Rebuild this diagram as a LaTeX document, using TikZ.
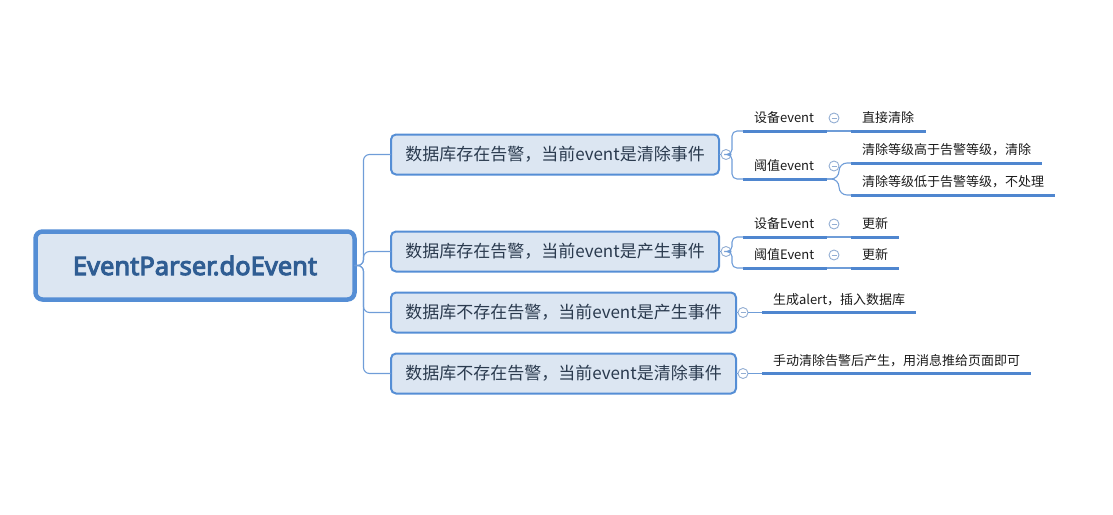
\documentclass[tikz,border=0pt]{standalone}
\usepackage{fontspec}
\setmainfont{Noto Sans CJK SC}
\newfontfamily\rootfont{Noto Sans}[FakeBold=4]
\usetikzlibrary{calc}
\definecolor{boxfill}{HTML}{DCE6F2}
\definecolor{boxline}{HTML}{558ED5}
\definecolor{roottext}{HTML}{2F5D93}
\definecolor{branchtext}{HTML}{2A3A4E}
\definecolor{connc}{HTML}{6F9DD8}
\definecolor{ulinec}{HTML}{4F86CF}
\definecolor{btncol}{HTML}{93AED3}
\definecolor{leaftext}{HTML}{1A1A1A}
\tikzset{
  rootbox/.style={draw=boxline, line width=4.5pt, fill=boxfill, rounded corners=7pt,
    minimum width=319pt, minimum height=68pt, inner sep=0pt, outer sep=0pt,
    font=\rootfont\fontsize{25.5}{30}\selectfont, text=roottext},
  branchbox/.style={draw=boxline, line width=2pt, fill=boxfill, rounded corners=5pt,
    minimum height=40pt, inner sep=0pt, outer sep=0pt,
    font=\fontsize{17}{20}\selectfont, text=branchtext},
  conn/.style={draw=connc, line width=1.1pt},
  uline/.style={draw=ulinec, line width=3pt},
  leaf/.style={anchor=south west, inner xsep=11pt, inner ysep=0pt, outer sep=0pt,
    minimum height=26pt, align=left, font=\fontsize{13}{15}\selectfont, text=leaftext,
    append after command={(\tikzlastnode.south west) edge[uline] (\tikzlastnode.south east)}},
  btn/.style={circle, draw=btncol, line width=0.9pt, fill=white, minimum size=10pt,
    inner sep=0pt, outer sep=0pt,
    path picture={\draw[btncol, line width=0.9pt]
      ($(path picture bounding box.west)+(2.5,0)$) -- ($(path picture bounding box.east)+(-2.5,0)$);}}
}
\begin{document}
\begin{tikzpicture}[x=1pt, y=-1pt]
\useasboundingbox (0,0) rectangle (1113,514);

% root
\node[rootbox] (root) at (195,265.5) {EventParser.doEvent};

% branches
\node[branchbox, minimum width=328pt] (b1) at (555,154.5) {数据库存在告警，当前event是清除事件};
\node[branchbox, minimum width=328pt] (b2) at (555,251.5) {数据库存在告警，当前event是产生事件};
\node[branchbox, minimum width=345pt] (b3) at (563.5,312.5) {数据库不存在告警，当前event是产生事件};
\node[branchbox, minimum width=345pt] (b4) at (563.5,373.5) {数据库不存在告警，当前event是清除事件};

% trunk connectors
\draw[conn, rounded corners=6pt] (root.east) -- ++(9,0) |- (b1.west);
\draw[conn, rounded corners=6pt] (root.east) -- ++(9,0) |- (b2.west);
\draw[conn, rounded corners=6pt] (root.east) -- ++(9,0) |- (b3.west);
\draw[conn, rounded corners=6pt] (root.east) -- ++(9,0) |- (b4.west);

% collapse buttons of branches
\node[btn] (c1) at ($(b1.east)+(7,0)$) {};
\node[btn] (c2) at ($(b2.east)+(7,0)$) {};
\node[btn] (c3) at ($(b3.east)+(7,0)$) {};
\node[btn] (c4) at ($(b4.east)+(7,0)$) {};
\draw[conn] (b1.east) -- (c1.west);
\draw[conn] (b2.east) -- (c2.west);
\draw[conn] (b3.east) -- (c3.west);
\draw[conn] (b4.east) -- (c4.west);

% leaves of branch 1
\node[leaf, text width=62pt] (l1a) at (743,131) {设备event};
\node[leaf, text width=53pt] (l1a1) at (851,131) {直接清除};
\node[leaf, text width=62pt] (l1b) at (743,179) {阈值event};
\node[leaf, text width=169pt] (l1b1) at (851,163) {清除等级高于告警等级，清除};
\node[leaf, text width=182pt] (l1b2) at (851,195) {清除等级低于告警等级，不处理};

% leaves of branch 2
\node[leaf, text width=62pt] (l2a) at (743,237) {设备Event};
\node[leaf, text width=26pt] (l2a1) at (851,237) {更新};
\node[leaf, text width=62pt] (l2b) at (743,268) {阈值Event};
\node[leaf, text width=26pt] (l2b1) at (851,268) {更新};

% leaves of branches 3 and 4
\node[leaf, text width=132pt] (l3) at (762,312.5) {生成alert，插入数据库};
\node[leaf, text width=247pt] (l4) at (762,373.5) {手动清除告警后产生，用消息推给页面即可};

% connectors from branch buttons
\draw[conn, rounded corners=5pt] (c1.east) -- ++(1,0) |- (l1a.south west);
\draw[conn, rounded corners=5pt] (c1.east) -- ++(1,0) |- (l1b.south west);
\draw[conn, rounded corners=5pt] (c2.east) -- ++(1,0) |- (l2a.south west);
\draw[conn, rounded corners=5pt] (c2.east) -- ++(1,0) |- (l2b.south west);
\draw[conn] (c3.east) -- (l3.south west);
\draw[conn] (c4.east) -- (l4.south west);

% connectors between leaf levels
\draw[conn] (l1a.south east) -- (l1a1.south west);
\draw[conn, rounded corners=8pt] (l1b.south east) -- ++(12,0) |- (l1b1.south west);
\draw[conn, rounded corners=8pt] (l1b.south east) -- ++(12,0) |- (l1b2.south west);
\draw[conn] (l2a.south east) -- (l2a1.south west);
\draw[conn] (l2b.south east) -- (l2b1.south west);

% collapse buttons of leaves
\node[btn] (k1a) at ($(l1a.east)+(7,0)$) {};
\node[btn] (k1b) at ($(l1b.east)+(7,0)$) {};
\node[btn] (k2a) at ($(l2a.east)+(7,0)$) {};
\node[btn] (k2b) at ($(l2b.east)+(7,0)$) {};
\end{tikzpicture}
\end{document}
